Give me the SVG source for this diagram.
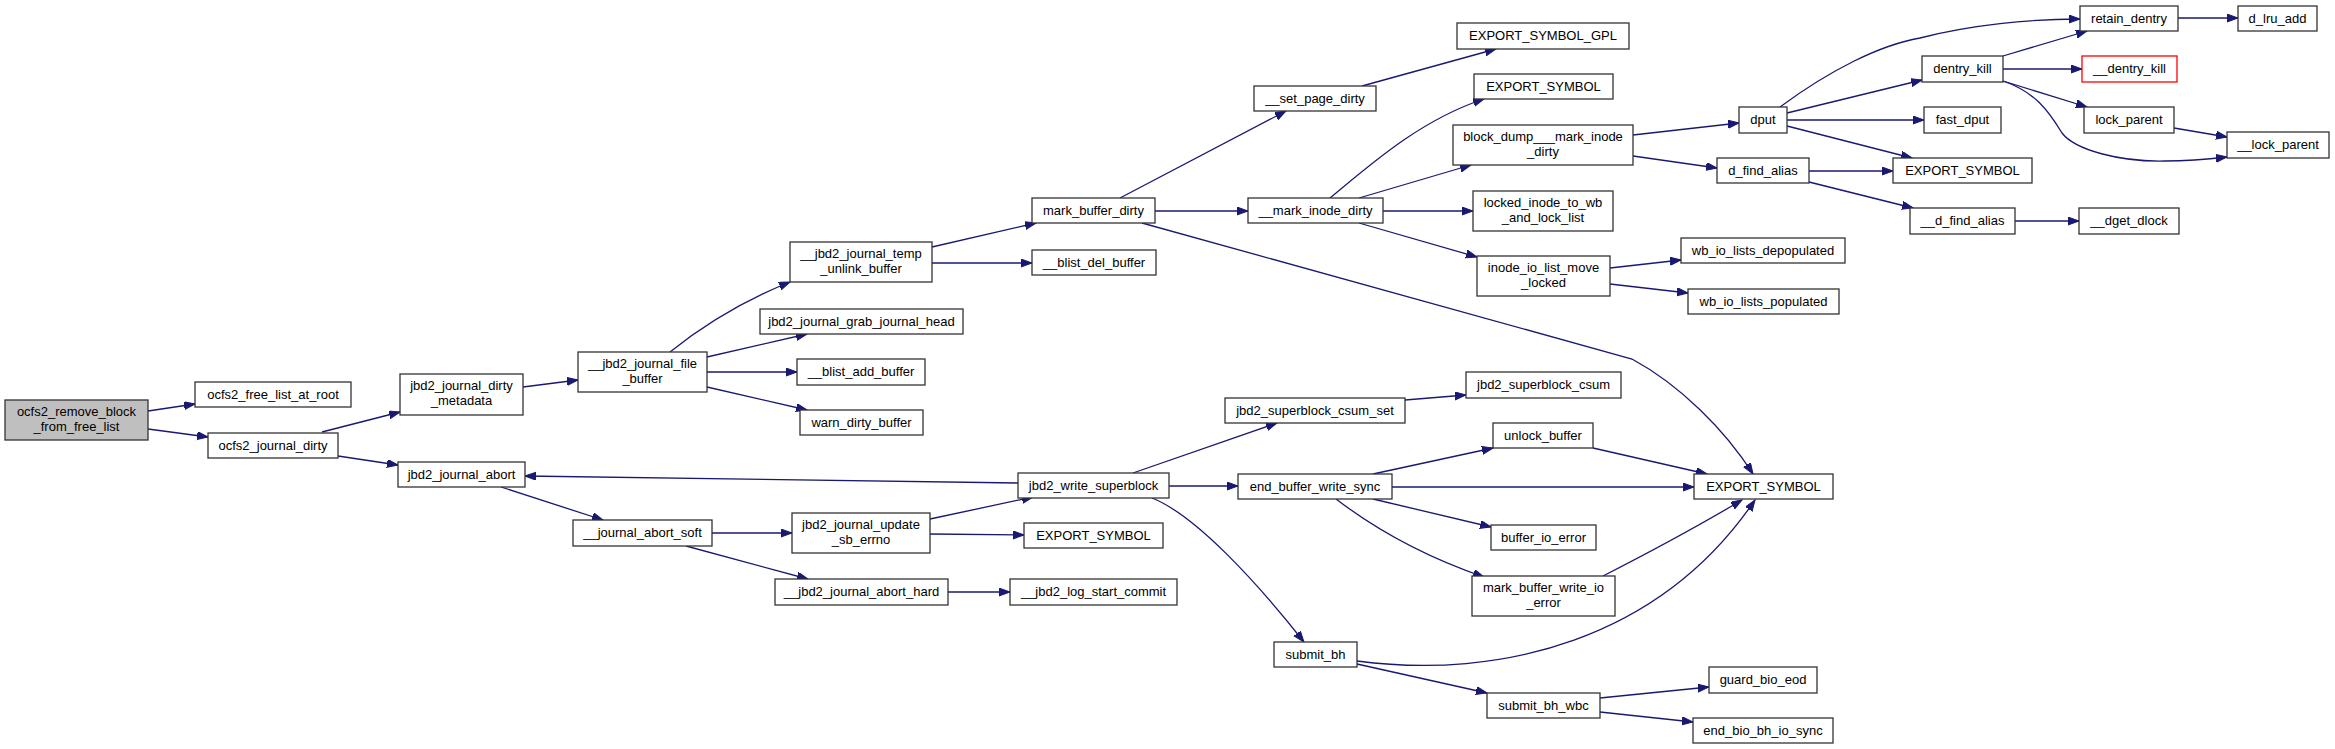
<svg xmlns="http://www.w3.org/2000/svg" width="2335" height="749" viewBox="0 0 2335 749">
<defs>
<style>
.n rect{fill:#fff;stroke:#333;stroke-width:1.3}
.n text{font-family:"Liberation Sans",Arial,sans-serif;font-size:13px;fill:#000;text-anchor:middle}
.root rect{fill:#bfbfbf}
.red rect{stroke:#ff0000}
#edges path{fill:none;stroke:#191970;stroke-width:1.3;marker-end:url(#ah)}
</style>
<marker id="ah" markerWidth="12" markerHeight="9" refX="11" refY="4" orient="auto" markerUnits="userSpaceOnUse">
<path d="M0,0 L11,4 L0,8 z" fill="#191970" stroke="#191970" stroke-width="1"/>
</marker>
</defs>
<rect width="2335" height="749" fill="#fff"/>
<g id="edges">
<path d="M148,411 L195,404"/>
<path d="M148,429 L208,437"/>
<path d="M322,432 L400,412"/>
<path d="M338,456 L398,465"/>
<path d="M523,387 L578,380"/>
<path d="M501,487 L603,520"/>
<path d="M670,352 C700,328 740,302 790,282"/>
<path d="M707,357 L807,334"/>
<path d="M707,372 L797,372"/>
<path d="M707,387 L807,410"/>
<path d="M712,533 L792,533"/>
<path d="M686,546 L808,579"/>
<path d="M932,247 L1036,223"/>
<path d="M932,263 L1032,263"/>
<path d="M930,519 L1033,497"/>
<path d="M930,534 L1024,535"/>
<path d="M948,592 L1010,592"/>
<path d="M1018,483 L525,476"/>
<path d="M1120,198 L1286,111"/>
<path d="M1155,211 L1248,211"/>
<path d="M1142,223 L1632,359 C1680,385 1725,430 1753,474"/>
<path d="M1133,473 L1277,423"/>
<path d="M1169,486 L1238,486"/>
<path d="M1152,498 C1195,515 1255,580 1304,642"/>
<path d="M1362,86 L1496,49"/>
<path d="M1330,198 C1370,165 1420,120 1484,99"/>
<path d="M1359,198 L1471,165"/>
<path d="M1383,211 L1473,211"/>
<path d="M1359,223 L1477,257"/>
<path d="M1405,400 L1466,395"/>
<path d="M1373,474 L1493,448"/>
<path d="M1392,487 L1694,487"/>
<path d="M1373,499 L1491,527"/>
<path d="M1336,499 C1370,525 1420,555 1484,577"/>
<path d="M1357,661 C1500,680 1660,640 1755,500"/>
<path d="M1357,664 L1487,693"/>
<path d="M1593,448 L1707,474"/>
<path d="M1603,576 C1650,552 1700,525 1742,500"/>
<path d="M1633,135 L1739,123"/>
<path d="M1633,156 L1717,168"/>
<path d="M1610,268 L1681,260"/>
<path d="M1610,284 L1688,293"/>
<path d="M1600,698 L1709,687"/>
<path d="M1600,712 L1693,722"/>
<path d="M1780,107 C1830,70 1880,45 1920,38 C1970,25 2030,19 2080,19"/>
<path d="M1787,113 L1922,80"/>
<path d="M1787,120 L1924,120"/>
<path d="M1787,126 L1912,158"/>
<path d="M1809,171 L1893,171"/>
<path d="M1809,182 L1913,208"/>
<path d="M2003,56 L2087,31"/>
<path d="M2003,69 L2082,69"/>
<path d="M2003,81 L2087,107"/>
<path d="M2003,81 C2035,92 2048,110 2062,133 C2075,150 2120,162 2165,161 C2190,161 2210,159 2227,157"/>
<path d="M2178,18 L2238,18"/>
<path d="M2174,128 L2227,137"/>
<path d="M2015,221 L2079,221"/>
</g>
<g id="n1" class="n root"><rect x="5" y="400" width="143" height="40"/><text x="76.5" y="416">ocfs2_remove_block</text><text x="76.5" y="431">_from_free_list</text></g>
<g id="n2" class="n"><rect x="195" y="382" width="156" height="25"/><text x="273" y="399">ocfs2_free_list_at_root</text></g>
<g id="n3" class="n"><rect x="208" y="433" width="130" height="25"/><text x="273" y="450">ocfs2_journal_dirty</text></g>
<g id="n4" class="n"><rect x="400" y="374" width="123" height="41"/><text x="461.5" y="390">jbd2_journal_dirty</text><text x="461.5" y="405">_metadata</text></g>
<g id="n5" class="n"><rect x="398" y="462" width="127" height="25"/><text x="461.5" y="479">jbd2_journal_abort</text></g>
<g id="n6" class="n"><rect x="578" y="352" width="129" height="40"/><text x="642.5" y="368">__jbd2_journal_file</text><text x="642.5" y="383">_buffer</text></g>
<g id="n7" class="n"><rect x="573" y="520" width="139" height="26"/><text x="642.5" y="537">__journal_abort_soft</text></g>
<g id="n8" class="n"><rect x="790" y="242" width="142" height="40"/><text x="861" y="258">__jbd2_journal_temp</text><text x="861" y="273">_unlink_buffer</text></g>
<g id="n9" class="n"><rect x="760" y="309" width="203" height="25"/><text x="861.5" y="326">jbd2_journal_grab_journal_head</text></g>
<g id="n10" class="n"><rect x="797" y="359" width="128" height="26"/><text x="861" y="376">__blist_add_buffer</text></g>
<g id="n11" class="n"><rect x="800" y="410" width="123" height="25"/><text x="861.5" y="427">warn_dirty_buffer</text></g>
<g id="n12" class="n"><rect x="792" y="513" width="138" height="40"/><text x="861" y="529">jbd2_journal_update</text><text x="861" y="544">_sb_errno</text></g>
<g id="n13" class="n"><rect x="775" y="579" width="173" height="26"/><text x="861.5" y="596">__jbd2_journal_abort_hard</text></g>
<g id="n14" class="n"><rect x="1032" y="198" width="123" height="25"/><text x="1093.5" y="215">mark_buffer_dirty</text></g>
<g id="n15" class="n"><rect x="1032" y="250" width="124" height="25"/><text x="1094" y="267">__blist_del_buffer</text></g>
<g id="n16" class="n"><rect x="1018" y="473" width="151" height="25"/><text x="1093.5" y="490">jbd2_write_superblock</text></g>
<g id="n17" class="n"><rect x="1024" y="523" width="139" height="25"/><text x="1093.5" y="540">EXPORT_SYMBOL</text></g>
<g id="n18" class="n"><rect x="1010" y="579" width="167" height="26"/><text x="1093.5" y="596">__jbd2_log_start_commit</text></g>
<g id="n19" class="n"><rect x="1254" y="86" width="122" height="25"/><text x="1315" y="103">__set_page_dirty</text></g>
<g id="n20" class="n"><rect x="1248" y="198" width="135" height="25"/><text x="1315.5" y="215">__mark_inode_dirty</text></g>
<g id="n21" class="n"><rect x="1225" y="398" width="180" height="25"/><text x="1315" y="415">jbd2_superblock_csum_set</text></g>
<g id="n22" class="n"><rect x="1238" y="474" width="154" height="25"/><text x="1315" y="491">end_buffer_write_sync</text></g>
<g id="n23" class="n"><rect x="1274" y="642" width="83" height="25"/><text x="1315.5" y="659">submit_bh</text></g>
<g id="n24" class="n"><rect x="1457" y="23" width="172" height="26"/><text x="1543" y="40">EXPORT_SYMBOL_GPL</text></g>
<g id="n25" class="n"><rect x="1474" y="74" width="139" height="25"/><text x="1543.5" y="91">EXPORT_SYMBOL</text></g>
<g id="n26" class="n"><rect x="1453" y="125" width="180" height="40"/><text x="1543" y="141">block_dump___mark_inode</text><text x="1543" y="156">_dirty</text></g>
<g id="n27" class="n"><rect x="1473" y="191" width="140" height="40"/><text x="1543" y="207">locked_inode_to_wb</text><text x="1543" y="222">_and_lock_list</text></g>
<g id="n28" class="n"><rect x="1477" y="256" width="133" height="40"/><text x="1543.5" y="272">inode_io_list_move</text><text x="1543.5" y="287">_locked</text></g>
<g id="n29" class="n"><rect x="1466" y="372" width="155" height="26"/><text x="1543.5" y="389">jbd2_superblock_csum</text></g>
<g id="n30" class="n"><rect x="1493" y="423" width="100" height="25"/><text x="1543" y="440">unlock_buffer</text></g>
<g id="n31" class="n"><rect x="1491" y="525" width="105" height="25"/><text x="1543.5" y="542">buffer_io_error</text></g>
<g id="n32" class="n"><rect x="1472" y="576" width="143" height="40"/><text x="1543.5" y="592">mark_buffer_write_io</text><text x="1543.5" y="607">_error</text></g>
<g id="n33" class="n"><rect x="1487" y="693" width="113" height="25"/><text x="1543.5" y="710">submit_bh_wbc</text></g>
<g id="n34" class="n"><rect x="1739" y="107" width="48" height="26"/><text x="1763" y="124">dput</text></g>
<g id="n35" class="n"><rect x="1717" y="158" width="92" height="25"/><text x="1763" y="175">d_find_alias</text></g>
<g id="n36" class="n"><rect x="1681" y="238" width="164" height="25"/><text x="1763" y="255">wb_io_lists_depopulated</text></g>
<g id="n37" class="n"><rect x="1688" y="289" width="151" height="25"/><text x="1763.5" y="306">wb_io_lists_populated</text></g>
<g id="n38" class="n"><rect x="1694" y="474" width="139" height="25"/><text x="1763.5" y="491">EXPORT_SYMBOL</text></g>
<g id="n39" class="n"><rect x="1709" y="667" width="108" height="26"/><text x="1763" y="684">guard_bio_eod</text></g>
<g id="n40" class="n"><rect x="1693" y="718" width="140" height="25"/><text x="1763" y="735">end_bio_bh_io_sync</text></g>
<g id="n41" class="n"><rect x="1922" y="56" width="81" height="26"/><text x="1962.5" y="73">dentry_kill</text></g>
<g id="n42" class="n"><rect x="1924" y="107" width="77" height="26"/><text x="1962.5" y="124">fast_dput</text></g>
<g id="n43" class="n"><rect x="1893" y="158" width="139" height="25"/><text x="1962.5" y="175">EXPORT_SYMBOL</text></g>
<g id="n44" class="n"><rect x="1910" y="208" width="105" height="26"/><text x="1962.5" y="225">__d_find_alias</text></g>
<g id="n45" class="n"><rect x="2080" y="6" width="98" height="25"/><text x="2129" y="23">retain_dentry</text></g>
<g id="n46" class="n red"><rect x="2082" y="56" width="95" height="26"/><text x="2129.5" y="73">__dentry_kill</text></g>
<g id="n47" class="n"><rect x="2084" y="107" width="90" height="26"/><text x="2129" y="124">lock_parent</text></g>
<g id="n48" class="n"><rect x="2079" y="208" width="100" height="26"/><text x="2129" y="225">__dget_dlock</text></g>
<g id="n49" class="n"><rect x="2238" y="6" width="79" height="25"/><text x="2277.5" y="23">d_lru_add</text></g>
<g id="n50" class="n"><rect x="2227" y="132" width="102" height="26"/><text x="2278" y="149">__lock_parent</text></g>
</svg>
